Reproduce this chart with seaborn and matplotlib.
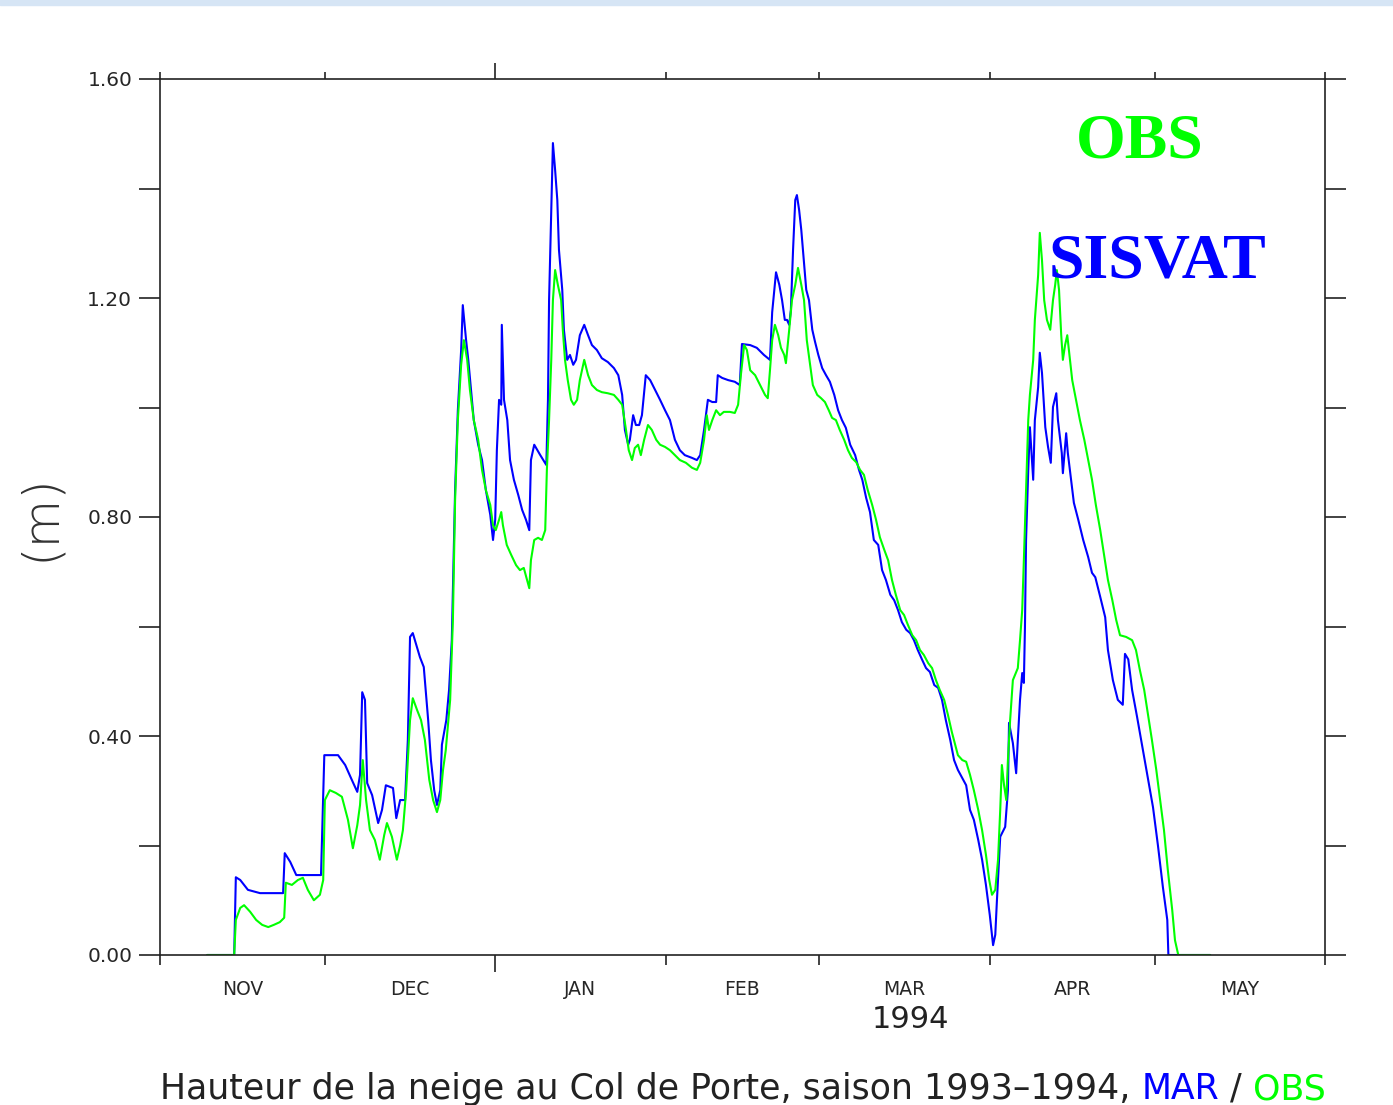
import numpy as np
import pandas as pd
import matplotlib
matplotlib.use('Agg')
import matplotlib.pyplot as plt
import seaborn as sns
from matplotlib.patches import Rectangle

# Snow depth (m) at Col de Porte, x = days since 1 Nov 1993
mar = [(8.6, 0.0), (13.5, 0.0), (13.8, 0.142), (14.6, 0.137), (16.0, 0.119), (18.2, 0.113),
       (22.4, 0.113), (22.7, 0.186), (23.7, 0.17), (24.8, 0.146), (29.3, 0.146), (29.9, 0.365),
       (32.4, 0.365), (33.7, 0.347), (34.9, 0.32), (35.9, 0.298), (36.4, 0.329), (36.8, 0.48),
       (37.3, 0.466), (37.7, 0.314), (38.6, 0.292), (39.7, 0.241), (40.4, 0.265), (41.1, 0.31),
       (42.4, 0.305), (43.0, 0.25), (43.7, 0.283), (44.6, 0.283), (45.1, 0.393), (45.5, 0.581),
       (46.0, 0.588), (46.8, 0.561), (47.3, 0.544), (48.0, 0.526), (48.8, 0.429), (49.3, 0.356),
       (49.9, 0.301), (50.4, 0.274), (51.0, 0.301), (51.3, 0.384), (52.1, 0.429), (52.6, 0.484),
       (53.1, 0.575), (53.7, 0.849), (54.2, 0.995), (54.8, 1.105), (55.1, 1.187), (55.7, 1.123),
       (56.1, 1.087), (56.6, 1.032), (57.1, 0.977), (57.9, 0.932), (58.6, 0.904), (59.3, 0.849),
       (60.1, 0.804), (60.6, 0.758), (61.0, 0.795), (61.3, 0.922), (61.7, 1.014), (62.1, 1.005),
       (62.2, 1.151), (62.6, 1.014), (63.2, 0.977), (63.7, 0.904), (64.4, 0.868), (65.2, 0.84),
       (65.9, 0.813), (66.6, 0.795), (67.2, 0.776), (67.5, 0.904), (68.1, 0.932), (69.2, 0.913),
       (70.3, 0.895), (70.6, 1.014), (70.8, 1.196), (71.2, 1.361), (71.5, 1.483), (71.9, 1.434),
       (72.3, 1.379), (72.6, 1.288), (73.2, 1.215), (73.5, 1.142), (74.1, 1.087), (74.6, 1.096),
       (75.2, 1.078), (75.7, 1.087), (76.4, 1.132), (77.2, 1.151), (77.9, 1.132), (78.6, 1.114),
       (79.5, 1.105), (80.4, 1.09), (81.5, 1.083), (82.6, 1.072), (83.4, 1.059), (84.1, 1.023),
       (84.6, 0.959), (85.2, 0.932), (85.5, 0.941), (86.1, 0.986), (86.6, 0.968), (87.2, 0.968),
       (87.7, 0.986), (88.4, 1.059), (89.2, 1.05), (90.1, 1.032), (91.0, 1.014), (91.9, 0.995),
       (92.8, 0.977), (93.7, 0.941), (94.6, 0.922), (95.5, 0.913), (96.8, 0.908), (97.7, 0.904),
       (98.3, 0.913), (99.0, 0.959), (99.7, 1.014), (100.5, 1.01), (101.2, 1.01), (101.5, 1.059),
       (102.3, 1.054), (103.4, 1.05), (104.6, 1.047), (105.5, 1.041), (105.9, 1.116), (107.4, 1.114),
       (108.6, 1.109), (109.9, 1.096), (111.0, 1.087), (111.4, 1.174), (112.1, 1.247), (112.7, 1.224),
       (113.2, 1.196), (113.7, 1.16), (114.1, 1.16), (114.5, 1.151), (114.8, 1.178), (115.2, 1.288),
       (115.6, 1.379), (115.9, 1.388), (116.3, 1.361), (116.7, 1.324), (117.0, 1.288), (117.6, 1.215),
       (118.1, 1.196), (118.7, 1.142), (119.2, 1.12), (119.8, 1.096), (120.5, 1.072), (121.2, 1.059),
       (121.9, 1.047), (122.7, 1.023), (123.4, 0.995), (124.1, 0.977), (124.8, 0.963), (125.6, 0.932),
       (126.5, 0.913), (127.2, 0.886), (127.8, 0.868), (128.5, 0.835), (129.2, 0.809), (129.9, 0.758),
       (130.7, 0.749), (131.4, 0.703), (132.1, 0.685), (132.9, 0.658), (133.6, 0.648), (134.3, 0.63),
       (135.0, 0.608), (135.8, 0.594), (136.5, 0.588), (137.2, 0.575), (137.9, 0.557), (138.7, 0.539),
       (139.4, 0.524), (140.1, 0.517), (140.9, 0.493), (141.6, 0.488), (142.3, 0.466), (143.0, 0.429),
       (143.8, 0.393), (144.5, 0.356), (145.2, 0.338), (146.0, 0.323), (146.7, 0.31), (147.4, 0.265),
       (148.1, 0.247), (148.9, 0.21), (149.6, 0.174), (150.3, 0.128), (151.0, 0.073), (151.6, 0.018),
       (152.0, 0.037), (152.3, 0.1), (152.9, 0.216), (153.8, 0.234), (154.3, 0.301), (154.5, 0.424),
       (155.2, 0.387), (155.8, 0.332), (156.1, 0.393), (156.5, 0.466), (156.9, 0.515), (157.2, 0.497),
       (157.4, 0.599), (157.6, 0.758), (158.0, 0.886), (158.3, 0.964), (158.9, 0.868), (159.2, 0.977),
       (159.8, 1.037), (160.1, 1.1), (160.5, 1.063), (161.1, 0.964), (161.6, 0.928), (162.1, 0.899),
       (162.5, 1.001), (163.1, 1.026), (163.4, 0.977), (164.1, 0.917), (164.3, 0.88), (164.9, 0.953),
       (165.2, 0.917), (165.8, 0.868), (166.3, 0.826), (167.1, 0.795), (168.0, 0.758), (168.9, 0.727),
       (169.6, 0.698), (170.2, 0.69), (171.1, 0.654), (172.0, 0.617), (172.5, 0.557), (173.4, 0.502),
       (174.3, 0.466), (175.2, 0.457), (175.6, 0.55), (176.2, 0.54), (176.9, 0.484), (177.8, 0.435),
       (178.7, 0.384), (179.6, 0.332), (180.7, 0.27), (181.6, 0.2), (182.5, 0.124), (183.3, 0.064),
       (183.5, 0.0), (191.1, 0.0)]

obs = [(8.6, 0.0), (13.5, 0.0), (13.8, 0.064), (14.6, 0.086), (15.3, 0.091), (16.4, 0.079),
       (17.5, 0.064), (18.6, 0.055), (19.7, 0.051), (20.7, 0.055), (21.8, 0.06), (22.6, 0.068),
       (22.9, 0.132), (24.0, 0.128), (25.1, 0.137), (26.0, 0.141), (26.9, 0.119), (28.0, 0.1),
       (29.1, 0.11), (29.7, 0.137), (30.0, 0.283), (30.9, 0.301), (32.0, 0.296), (33.1, 0.289),
       (34.2, 0.247), (35.1, 0.195), (35.9, 0.237), (36.4, 0.274), (36.9, 0.356), (37.5, 0.283),
       (38.2, 0.228), (39.1, 0.21), (40.0, 0.174), (40.8, 0.219), (41.3, 0.241), (42.2, 0.216),
       (43.1, 0.174), (43.7, 0.2), (44.2, 0.228), (44.8, 0.301), (45.5, 0.429), (46.0, 0.469),
       (46.8, 0.447), (47.5, 0.429), (48.2, 0.393), (49.0, 0.32), (49.7, 0.283), (50.4, 0.261),
       (51.0, 0.283), (51.5, 0.338), (52.0, 0.374), (52.8, 0.466), (53.3, 0.612), (53.7, 0.831),
       (54.2, 0.977), (54.8, 1.078), (55.3, 1.123), (55.9, 1.087), (56.4, 1.032), (57.1, 0.977),
       (57.9, 0.941), (58.6, 0.886), (59.3, 0.849), (60.1, 0.822), (60.6, 0.785), (61.1, 0.776),
       (61.7, 0.795), (62.1, 0.809), (62.4, 0.785), (63.1, 0.749), (63.9, 0.731), (64.8, 0.712),
       (65.5, 0.703), (66.2, 0.707), (66.8, 0.685), (67.2, 0.67), (67.5, 0.721), (68.1, 0.758),
       (68.8, 0.762), (69.5, 0.758), (70.1, 0.776), (70.4, 0.886), (70.8, 0.977), (71.2, 1.087),
       (71.5, 1.196), (71.9, 1.251), (72.4, 1.224), (73.0, 1.196), (73.3, 1.142), (73.7, 1.087),
       (74.2, 1.05), (74.8, 1.014), (75.3, 1.005), (75.9, 1.014), (76.4, 1.05), (77.2, 1.087),
       (77.9, 1.059), (78.6, 1.041), (79.5, 1.032), (80.4, 1.028), (81.5, 1.026), (82.6, 1.023),
       (83.4, 1.014), (84.1, 1.005), (84.8, 0.959), (85.3, 0.922), (85.9, 0.904), (86.4, 0.926),
       (87.0, 0.932), (87.5, 0.913), (88.1, 0.941), (88.8, 0.968), (89.5, 0.959), (90.3, 0.941),
       (91.0, 0.932), (91.9, 0.928), (92.8, 0.922), (93.7, 0.913), (94.6, 0.904), (95.7, 0.899),
       (96.8, 0.89), (97.7, 0.886), (98.3, 0.899), (99.0, 0.941), (99.5, 0.986), (99.9, 0.959),
       (100.5, 0.977), (101.2, 0.995), (101.9, 0.986), (102.6, 0.992), (103.7, 0.992), (104.6, 0.99),
       (105.2, 1.005), (105.7, 1.059), (106.3, 1.114), (106.8, 1.105), (107.4, 1.068), (108.3, 1.059),
       (109.2, 1.041), (110.1, 1.023), (110.6, 1.017), (111.0, 1.068), (111.4, 1.123), (111.9, 1.151),
       (112.5, 1.132), (113.0, 1.109), (113.6, 1.096), (113.9, 1.081), (114.5, 1.142), (115.0, 1.196),
       (115.6, 1.224), (116.1, 1.255), (116.7, 1.224), (117.2, 1.196), (117.7, 1.123), (118.3, 1.078),
       (118.8, 1.041), (119.6, 1.023), (120.3, 1.017), (121.0, 1.01), (121.7, 0.995), (122.3, 0.981),
       (123.0, 0.977), (123.7, 0.959), (124.5, 0.941), (125.2, 0.922), (125.9, 0.908), (126.7, 0.9),
       (127.4, 0.886), (128.1, 0.877), (128.8, 0.849), (129.6, 0.822), (130.3, 0.795), (131.0, 0.763),
       (131.8, 0.74), (132.5, 0.721), (133.2, 0.685), (133.9, 0.658), (134.7, 0.63), (135.4, 0.621),
       (136.1, 0.603), (136.9, 0.584), (137.6, 0.575), (138.3, 0.557), (139.0, 0.548), (139.8, 0.533),
       (140.5, 0.524), (141.2, 0.502), (141.9, 0.484), (142.7, 0.466), (143.4, 0.438), (144.1, 0.407),
       (144.7, 0.384), (145.2, 0.365), (146.0, 0.356), (146.7, 0.353), (147.4, 0.329), (148.1, 0.301),
       (148.9, 0.265), (149.6, 0.228), (150.3, 0.183), (150.9, 0.137), (151.4, 0.11), (152.0, 0.119),
       (152.5, 0.174), (152.9, 0.265), (153.2, 0.347), (153.6, 0.31), (154.0, 0.283), (154.3, 0.356),
       (154.7, 0.429), (155.2, 0.502), (155.8, 0.517), (156.1, 0.524), (156.5, 0.575), (156.9, 0.63),
       (157.2, 0.721), (157.6, 0.849), (158.0, 0.977), (158.3, 1.023), (158.9, 1.087), (159.2, 1.16),
       (159.8, 1.242), (160.1, 1.319), (160.5, 1.269), (160.9, 1.196), (161.4, 1.16), (162.0, 1.142),
       (162.5, 1.196), (162.9, 1.224), (163.2, 1.251), (163.6, 1.215), (164.0, 1.132), (164.3, 1.087),
       (164.7, 1.114), (165.1, 1.132), (165.4, 1.105), (166.0, 1.05), (166.7, 1.014), (167.4, 0.977),
       (168.2, 0.941), (168.9, 0.904), (169.6, 0.868), (170.3, 0.822), (171.1, 0.776), (171.8, 0.731),
       (172.5, 0.685), (173.3, 0.648), (174.0, 0.612), (174.7, 0.584), (175.8, 0.581), (176.9, 0.575),
       (177.6, 0.557), (178.3, 0.521), (179.1, 0.484), (179.8, 0.438), (180.5, 0.393), (181.3, 0.338),
       (182.0, 0.283), (182.7, 0.228), (183.4, 0.155), (184.2, 0.082), (184.7, 0.027), (185.3, 0.0),
       (191.1, 0.0)]

month_edges = [0, 30, 61, 92, 120, 151, 181, 212]
month_names = ['NOV', 'DEC', 'JAN', 'FEB', 'MAR', 'APR', 'MAY']
y_major = [0.0, 0.4, 0.8, 1.2, 1.6]
y_minor = [0.2, 0.6, 1.0, 1.4]

df = pd.concat([
    pd.DataFrame(mar, columns=['day', 'depth']).assign(run='MAR'),
    pd.DataFrame(obs, columns=['day', 'depth']).assign(run='OBS'),
], ignore_index=True)

sns.set_style('white')
plt.rcParams['font.family'] = ['DejaVu Sans']

W, H = 1393, 1105
fig = plt.figure(figsize=(W / 100, H / 100), dpi=100)
ax = fig.add_axes([160 / W, 1 - 955 / H, 1165 / W, 876 / H])

sns.lineplot(data=df, x='day', y='depth', hue='run', hue_order=['MAR', 'OBS'],
             palette={'MAR': '#0000ff', 'OBS': '#00ff00'}, estimator=None, sort=False,
             linewidth=1.5, legend=False, ax=ax)
ax.set_xlim(0, 212)
ax.set_ylim(0, 1.6)
ax.set_xlabel('')
ax.set_ylabel('')

# month boundaries as ticks, month names centred in between
ax.set_xticks(month_edges)
ax.set_xticklabels([])
mids = [(a + b) / 2 for a, b in zip(month_edges[:-1], month_edges[1:])]
ax.set_xticks(mids, minor=True)
ax.set_xticklabels(month_names, minor=True)
ax.tick_params(axis='x', which='major', direction='out', width=1.2, top=True, bottom=True, color='#222222')
ax.tick_params(axis='x', which='minor', length=0, pad=18, labelsize=13.5)

ax.set_yticks(y_major)
ax.set_yticklabels([f'{v:.2f}' for v in y_major])
ax.set_yticks(y_minor, minor=True)
ax.tick_params(axis='y', which='both', direction='out', length=15, width=1.2,
               left=True, right=True, labelsize=14.5, pad=5, color='#222222')

for i, t in enumerate(ax.xaxis.get_major_ticks()):
    t.tick1line.set_markersize(12.5 if i == 2 else 7.5)
    t.tick2line.set_markersize(11.5 if i == 2 else 5)

for s in ax.spines.values():
    s.set_linewidth(1.2)
    s.set_color('#222222')

fig.text(40 / W, 1 - 517 / H, '(m)', rotation=90, ha='center', va='center',
         fontsize=36, fontweight='light', color='#333333')
fig.text(910 / W, 1 - 1020 / H, '1994', ha='center', va='center', fontsize=22, color='#222222')

ax.text(0.841, 0.928, 'OBS', transform=ax.transAxes, color='#00ff00', fontsize=46,
        fontweight='bold', family='Liberation Serif', ha='center', va='center')
ax.text(0.856, 0.791, 'SISVAT', transform=ax.transAxes, color='#0000ff', fontsize=46,
        fontweight='bold', family='Liberation Serif', ha='center', va='center')

# caption with coloured run names
fig.canvas.draw()
r = fig.canvas.get_renderer()
x = 160 / W
y = 1 - 1089 / H
for txt, col in [('Hauteur de la neige au Col de Porte, saison 1993–1994, ', '#222222'),
                 ('MAR', '#0000ff'), (' / ', '#222222'), ('OBS', '#00ff00')]:
    t = fig.text(x, y, txt, ha='left', va='center', fontsize=25, color=col)
    bb = t.get_window_extent(r)
    x = bb.x1 / W

fig.add_artist(Rectangle((0, 1 - 5 / H), 1, 5 / H, transform=fig.transFigure,
                         color='#d6e5f5', zorder=0))

fig.savefig('out.png', dpi=100)
